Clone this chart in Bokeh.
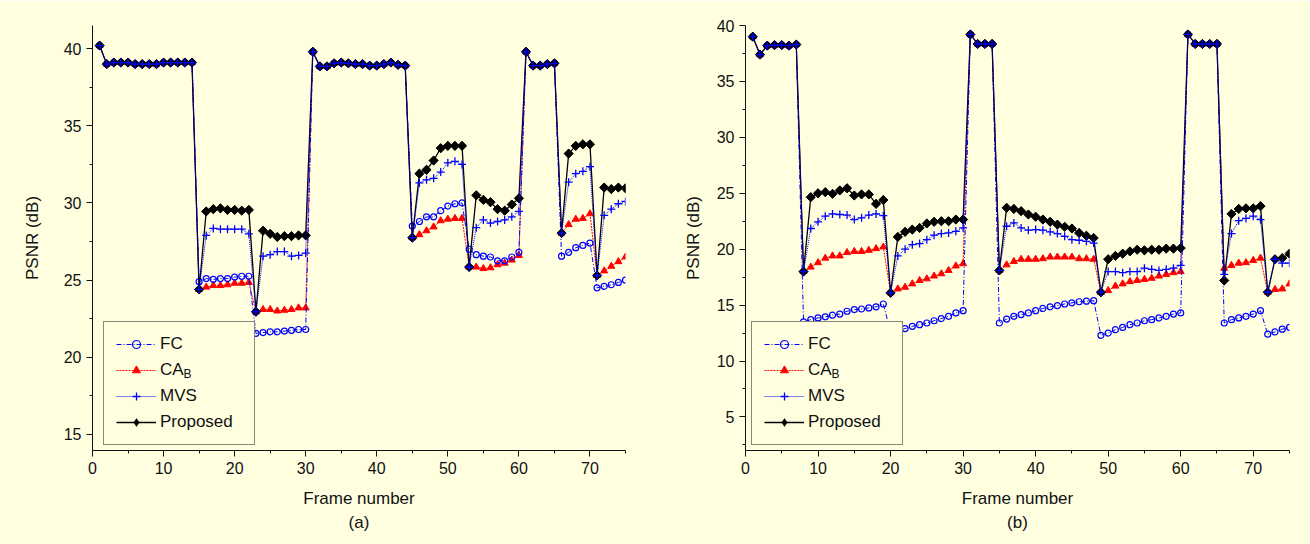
import numpy as np
from bokeh.plotting import figure
from bokeh.models import Range1d, Legend, LegendItem, Title, FixedTicker
from bokeh.layouts import row
from bokeh.embed import file_html
from bokeh.resources import INLINE

frames = list(range(1, 76))

# ---------------- (a) ----------------
high_a1 = [40.2, 39.0, 39.1, 39.1, 39.1, 39.0, 39.0, 39.0, 39.0, 39.1, 39.1, 39.1, 39.1, 39.1]
high_a2 = [39.8, 38.85, 38.85, 39.05, 39.1, 39.05, 39.0, 39.0, 38.9, 38.9, 39.0, 39.1, 38.95, 38.9]
high_a3 = [39.8, 38.9, 38.9, 39.0, 39.05]

prop_a = (high_a1 + [24.4]
          + [29.45, 29.6, 29.65, 29.55, 29.55, 29.5, 29.55] + [22.95]
          + [28.2, 28.0, 27.8, 27.85, 27.85, 27.9, 27.9]
          + high_a2 + [27.75]
          + [31.9, 32.15, 32.75, 33.55, 33.7, 33.7, 33.7] + [25.85]
          + [30.5, 30.2, 30.05, 29.6, 29.5, 29.9, 30.3]
          + high_a3 + [28.05]
          + [33.2, 33.7, 33.8, 33.8] + [25.3]
          + [31.0, 30.9, 31.0, 30.95])

mvs_a = (high_a1 + [24.4]
         + [27.9, 28.35, 28.3, 28.3, 28.3, 28.3, 28.0] + [22.95]
         + [26.55, 26.65, 26.85, 26.85, 26.55, 26.6, 26.75]
         + high_a2 + [27.75]
         + [31.3, 31.5, 31.6, 32.0, 32.6, 32.7, 32.5] + [25.85]
         + [28.4, 28.9, 28.7, 28.8, 28.9, 29.1, 29.45]
         + high_a3 + [28.05]
         + [31.35, 31.9, 32.05, 32.35] + [25.3]
         + [29.2, 29.6, 29.95, 30.1])

cab_a = (high_a1 + [24.4]
         + [24.55, 24.65, 24.65, 24.7, 24.8, 24.8, 24.85] + [22.95]
         + [23.1, 23.1, 23.0, 23.05, 23.1, 23.2, 23.2]
         + high_a2 + [27.75]
         + [27.95, 28.2, 28.45, 28.85, 28.95, 29.0, 29.0] + [25.85]
         + [25.85, 25.75, 25.8, 26.0, 26.1, 26.3, 26.6]
         + high_a3 + [28.05]
         + [28.6, 28.95, 29.0, 29.3] + [25.3]
         + [25.6, 25.9, 26.2, 26.5])

fc_a = (high_a1 + [24.9]
        + [25.1, 25.05, 25.1, 25.1, 25.2, 25.25, 25.25] + [21.55]
        + [21.6, 21.65, 21.65, 21.7, 21.75, 21.8, 21.8]
        + high_a2 + [28.5]
        + [28.8, 29.1, 29.1, 29.5, 29.8, 29.95, 30.0] + [27.0]
        + [26.65, 26.55, 26.5, 26.25, 26.25, 26.5, 26.8]
        + high_a3 + [26.55]
        + [26.8, 27.1, 27.25, 27.4] + [24.5]
        + [24.6, 24.7, 24.85, 25.0])

# ---------------- (b) ----------------
high_b1 = [39.0, 37.4, 38.2, 38.25, 38.25, 38.2, 38.3]
high_b2 = [39.2, 38.35, 38.35, 38.35]
high_b3 = [39.2, 38.35, 38.35, 38.35, 38.35]

prop_b = (high_b1 + [18.0]
          + [24.65, 25.0, 25.1, 24.95, 25.25, 25.45, 24.8, 24.9, 24.9, 24.05, 24.4] + [16.1]
          + [21.1, 21.55, 21.75, 21.9, 22.3, 22.45, 22.5, 22.5, 22.65, 22.65]
          + high_b2 + [18.1]
          + [23.7, 23.6, 23.4, 23.1, 22.9, 22.65, 22.45, 22.2, 22.0, 21.85, 21.45, 21.2, 21.0] + [16.15]
          + [19.1, 19.4, 19.6, 19.8, 19.95, 19.9, 19.95, 19.95, 20.05, 20.05, 20.1]
          + high_b3 + [17.2]
          + [23.15, 23.6, 23.65, 23.65, 23.85] + [16.15]
          + [19.1, 19.2, 19.6])

mvs_b = (high_b1 + [18.0]
         + [21.85, 22.45, 22.95, 23.15, 23.1, 23.05, 22.65, 22.8, 23.05, 23.15, 23.0] + [16.1]
         + [19.4, 20.0, 20.4, 20.5, 20.85, 21.25, 21.4, 21.45, 21.6, 21.9]
         + high_b2 + [18.1]
         + [22.05, 22.35, 21.9, 21.7, 21.75, 21.7, 21.55, 21.4, 21.15, 20.85, 20.8, 20.7, 20.55] + [16.15]
         + [18.0, 18.0, 17.9, 18.0, 18.0, 18.3, 18.2, 18.1, 18.2, 18.3, 18.55]
         + high_b3 + [17.75]
         + [21.4, 22.55, 22.75, 22.95, 22.65] + [16.15]
         + [19.1, 18.75, 18.75])

cab_b = (high_b1 + [18.0]
         + [18.4, 18.8, 19.2, 19.4, 19.4, 19.7, 19.8, 19.8, 19.9, 20.05, 20.2] + [16.1]
         + [16.45, 16.6, 16.9, 17.2, 17.35, 17.6, 17.8, 18.1, 18.5, 18.7]
         + high_b2 + [18.1]
         + [18.6, 18.9, 19.1, 19.1, 19.1, 19.15, 19.3, 19.3, 19.3, 19.3, 19.15, 19.15, 19.1] + [16.15]
         + [16.3, 16.7, 16.9, 17.1, 17.2, 17.3, 17.4, 17.6, 17.75, 17.9, 18.0]
         + high_b3 + [18.3]
         + [18.55, 18.75, 18.8, 19.0, 19.2] + [16.15]
         + [16.4, 16.45, 16.9])

fc_b = (high_b1 + [13.5]
        + [13.7, 13.85, 13.95, 14.1, 14.2, 14.45, 14.6, 14.65, 14.75, 14.85, 15.1] + [12.6]
        + [12.75, 12.9, 13.1, 13.25, 13.4, 13.6, 13.8, 14.0, 14.3, 14.5]
        + high_b2 + [13.4]
        + [13.75, 14.0, 14.15, 14.3, 14.5, 14.7, 14.85, 14.95, 15.1, 15.2, 15.3, 15.35, 15.4] + [12.3]
        + [12.5, 12.8, 13.0, 13.25, 13.4, 13.6, 13.7, 13.85, 14.0, 14.2, 14.3]
        + high_b3 + [13.4]
        + [13.7, 13.85, 14.0, 14.2, 14.5] + [12.4]
        + [12.6, 12.85, 13.0])

x_ticks = [0, 10, 20, 30, 40, 50, 60, 70]
x_minor = [5, 15, 25, 35, 45, 55, 65, 75]
y_ticks_a = [15, 20, 25, 30, 35, 40]
y_minor_a = [17.5, 22.5, 27.5, 32.5, 37.5]
y_ticks_b = [5, 10, 15, 20, 25, 30, 35, 40]
y_minor_b = [2.5, 7.5, 12.5, 17.5, 22.5, 27.5, 32.5, 37.5]

BG = "#FFFFE0"
FONT = "Liberation Sans"
BLUE = "#0000FF"
RED = "#FF0000"
INK = "#111111"


def panel(fc, cab, mvs, prop, yr, yt, ym, caption, bl, br, bt, ylabel_standoff, leg_x):
    W, H, BB = 655, 544, 94
    p = figure(width=W, height=H, output_backend="svg", toolbar_location=None,
               x_range=Range1d(0, 75), y_range=Range1d(*yr),
               min_border_left=bl, min_border_right=br, min_border_top=bt,
               min_border_bottom=BB)
    p.background_fill_color = BG
    p.border_fill_color = BG
    p.outline_line_color = None
    p.xgrid.visible = False
    p.ygrid.visible = False

    for ax in (p.xaxis[0], p.yaxis[0]):
        ax.axis_line_color = INK
        ax.major_tick_line_color = INK
        ax.minor_tick_line_color = INK
        ax.major_tick_in = 0
        ax.major_tick_out = 6
        ax.minor_tick_in = 0
        ax.minor_tick_out = 3
        ax.major_label_text_font = FONT
        ax.major_label_text_font_size = "16px"
        ax.major_label_text_color = INK
        ax.axis_label_text_font = FONT
        ax.axis_label_text_font_size = "17px"
        ax.axis_label_text_font_style = "normal"
        ax.axis_label_text_color = INK
    p.xaxis.ticker = FixedTicker(ticks=x_ticks, minor_ticks=x_minor)
    p.yaxis.ticker = FixedTicker(ticks=yt, minor_ticks=ym)
    p.xaxis.axis_label = "Frame number"
    p.yaxis.axis_label = "PSNR (dB)"
    p.xaxis.major_label_standoff = 5
    p.xaxis.axis_label_standoff = 12
    p.yaxis.major_label_standoff = 5
    p.yaxis.axis_label_standoff = ylabel_standoff

    t = Title(text=caption, align="center", text_font=FONT, text_font_size="17px",
              text_font_style="normal", text_color=INK, standoff=0)
    p.add_layout(t, "below")

    cab_l = p.line(frames, cab, line_color=RED, line_width=1, line_dash="2 1")
    cab_s = p.scatter(frames, cab, marker="triangle", size=7, fill_color=RED, line_color=RED)
    fc_l = p.line(frames, fc, line_color=BLUE, line_width=1, line_dash="5 2 1 2")
    fc_s = p.scatter(frames, fc, marker="circle", size=6, fill_color=None, line_color=BLUE,
                     line_width=1.2)
    pr_l = p.line(frames, prop, line_color="black", line_width=1.3)
    # diamond key used by the legend (hidden below the rotated squares in the plot)
    pr_key = p.scatter(frames, prop, marker="diamond", size=8.5,
                       fill_color="black", line_color="black", line_width=0.5)
    pr_s = p.scatter(frames, prop, marker="square", size=6.5, angle=np.pi / 4,
                     fill_color="black", line_color="black")
    mv_l = p.line(frames, mvs, line_color=BLUE, line_width=1, line_dash="1 1")
    mv_s = p.scatter(frames, mvs, marker="cross", size=8, line_color=BLUE, line_width=1.3)

    items = [LegendItem(label="FC", renderers=[fc_l, fc_s]),
             LegendItem(label="CA", renderers=[cab_l, cab_s]),
             LegendItem(label="MVS", renderers=[mv_l, mv_s]),
             LegendItem(label="Proposed", renderers=[pr_l, pr_key])]
    pad, gw, gh, sp, std, lw, leg_y = 12, 40, 20, 6, 4, 82, 5
    leg = Legend(items=items, location=(leg_x, leg_y), orientation="vertical",
                 padding=pad, spacing=sp, margin=0, glyph_width=gw, glyph_height=gh,
                 label_height=gh, label_standoff=std, label_width=lw,
                 label_text_font=FONT, label_text_font_size="17px",
                 label_text_color=INK,
                 border_line_color=INK, border_line_width=1,
                 background_fill_color=BG, background_fill_alpha=1.0)
    p.add_layout(leg)

    # subscript "B" of CA_B: a borderless one-item legend drawn over the main legend
    leg_h = 2 * pad + 4 * gh + 3 * sp
    row2_center = leg_y + leg_h - pad - gh - sp - gh / 2
    sub_h = 12
    sub_x = leg_x + pad + gw + std + 24.5
    sub_y = row2_center - 8.5 + 4.3 - sub_h / 2
    sub = Legend(items=[LegendItem(label="B", renderers=[cab_s])],
                 location=(sub_x, sub_y), orientation="vertical",
                 padding=0, spacing=0, margin=0, glyph_width=0, glyph_height=sub_h,
                 label_height=sub_h, label_standoff=0, label_width=0,
                 label_text_font=FONT, label_text_font_size="12px",
                 label_text_color=INK, border_line_color=None,
                 background_fill_alpha=0.0)
    p.add_layout(sub)
    return p


pa = panel(fc_a, cab_a, mvs_a, prop_a, (13.96, 41.5), y_ticks_a, y_minor_a, "(a)",
           92, 30, 25, 19, 11)
pb = panel(fc_b, cab_b, mvs_b, prop_b, (2.0, 40.0), y_ticks_b, y_minor_b, "(b)",
           90, 21, 24, 11, 6)

layout = row(pa, pb)
open("out.html", "w").write(file_html(layout, INLINE))
